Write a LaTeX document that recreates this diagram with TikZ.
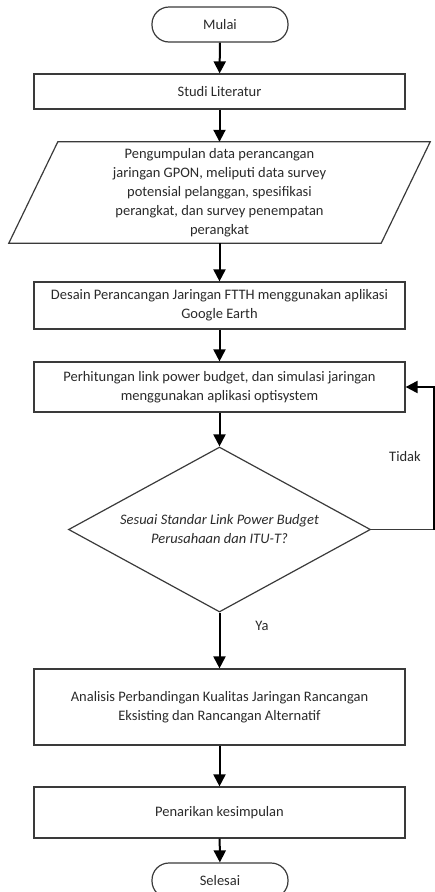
\documentclass[tikz,border=0pt]{standalone}
\usepackage{fontspec}
\setmainfont{Carlito}
\usetikzlibrary{arrows.meta,shapes.geometric}
\definecolor{txt}{HTML}{2A2A2A}
\definecolor{ln}{HTML}{3A3A3A}
\begin{document}
\begin{tikzpicture}[x=1pt,y=-1pt,
  every node/.style={font=\fontsize{14.5}{19}\selectfont, text=txt, align=center, inner sep=0pt},
  procbox/.style={draw=ln, line width=1.2pt, minimum width=371pt},
  termbox/.style={draw=ln, line width=1.2pt, rounded corners=17pt, minimum width=136pt, minimum height=35pt},
  flow/.style={line width=2pt, black, -{Triangle[length=12pt,width=12pt]}},
  plain/.style={line width=1.2pt, ln}]
\useasboundingbox (0,0) rectangle (435,892);
\node[termbox] (mulai) at (220,24.5) {Mulai};
\node[procbox, minimum height=35pt] (studi) at (219.5,91.5) {Studi Literatur};
\node[minimum width=372pt, minimum height=101pt] (data) at (219.5,192.5) {Pengumpulan data perancangan\\jaringan GPON, meliputi data survey\\potensial pelanggan, spesifikasi\\perangkat, dan survey penempatan\\perangkat};
\draw[plain] ([xshift=24.5pt]data.north west) -- ([xshift=24.5pt]data.north east) -- ([xshift=-24.5pt]data.south east) -- ([xshift=-24.5pt]data.south west) -- cycle;
\node[procbox, minimum height=47pt] (desain) at (219.5,305.5) {Desain Perancangan Jaringan FTTH menggunakan aplikasi\\Google Earth};
\node[procbox, minimum height=50pt] (hitung) at (219.5,387) {Perhitungan link power budget, dan simulasi jaringan\\menggunakan aplikasi optisystem};
\node[diamond, draw=ln, line width=1.2pt, aspect=1.83, minimum width=302pt, minimum height=165pt, font=\fontsize{14.5}{19}\selectfont\itshape] (dec) at (219.5,529.5) {Sesuai Standar Link Power Budget\\Perusahaan dan ITU-T?};
\node[procbox, minimum height=76pt] (analisis) at (219.5,707) {Analisis Perbandingan Kualitas Jaringan Rancangan\\Eksisting dan Rancangan Alternatif};
\node[procbox, minimum height=51pt] (tarik) at (219.5,812.5) {Penarikan kesimpulan};
\node[termbox] (selesai) at (220,880.5) {Selesai};
\node (tidak) at (405,457) {Tidak};
\node (ya) at (262,626) {Ya};
\coordinate (fb) at (434,529.5);
\draw[flow] (mulai) -- (studi);
\draw[flow] (studi) -- (data);
\draw[flow] (data) -- (desain);
\draw[flow] (desain) -- (hitung);
\draw[flow] (hitung) -- (dec);
\draw[flow] (dec) -- (analisis);
\draw[flow] (analisis) -- (tarik);
\draw[flow] (tarik) -- (selesai);
\draw[plain] (dec.east) -- (fb);
\draw[flow] (fb) |- (hitung.east);
\end{tikzpicture}
\end{document}
